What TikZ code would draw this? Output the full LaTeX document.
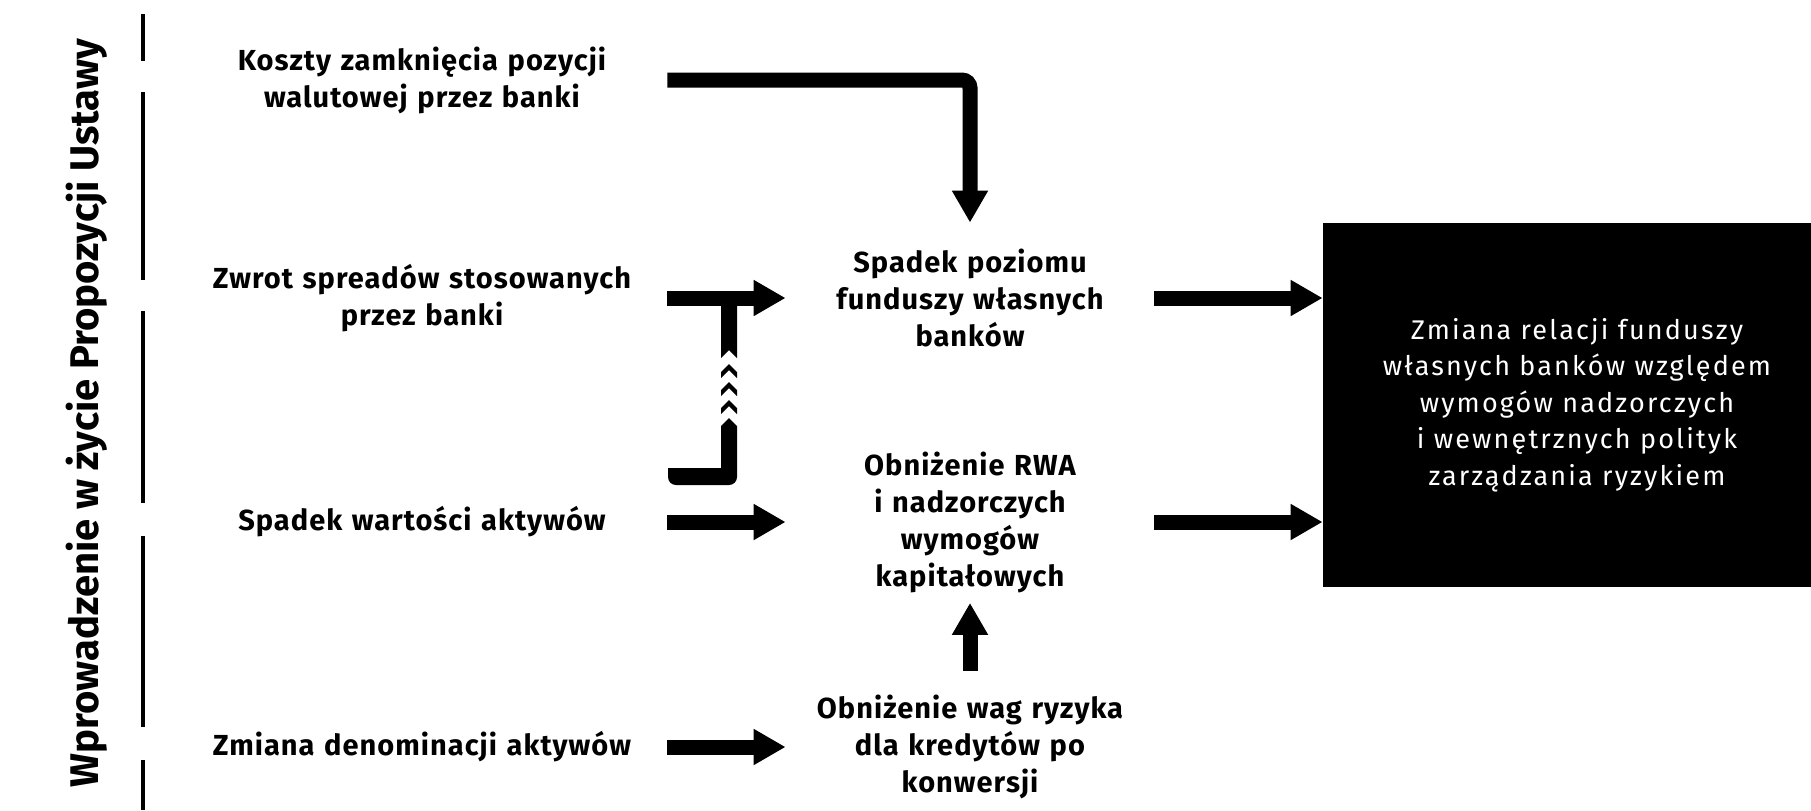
\documentclass[tikz,border=0pt]{standalone}
\usepackage{fontspec}
\setmainfont{Fira Sans}
\usetikzlibrary{arrows.meta}

\begin{document}
\begin{tikzpicture}[x = 0.5pt, y = -0.5pt,
	txt/.style = {font = \bfseries\fontsize{14.5}{18.5}\selectfont\addfontfeature{LetterSpace = 3.5}, align = center, inner sep = 0pt},
	causebox/.style = {txt, text width = 245pt},
	effectbox/.style = {txt, text width = 184pt},
	fatarrow/.style = {line width = 7.5pt, -{Triangle[length = 16pt, width = 17pt]}}]

	\path [use as bounding box] (0, 0) rectangle (1811, 810);

	% Side label
	
	\node [rotate = 90, font = \bfseries\fontsize{20}{22}\selectfont] (ustawa) at (87, 413) {Wprowadzenie w życie Propozycji Ustawy};
	
	\foreach \a/\b in {14/61, 92/280, 311/503, 536/727, 760/810}
		\draw [line width = 2.2pt] (143, \a) -- (143, \b);

	% Causes
	
	\node [causebox] (koszty) at (422, 80) {Koszty zamknięcia pozycji\\walutowej przez banki};
	\node [causebox] (zwrot) at (422, 298) {Zwrot spreadów stosowanych\\przez banki};
	\node [causebox] (aktywa) at (422, 522) {Spadek wartości aktywów};
	\node [causebox] (denominacja) at (422, 747) {Zmiana denominacji aktywów};
	
	% Effects
	
	\node [effectbox] (fundusze) at (970, 298) {Spadek poziomu\\funduszy własnych\\banków};
	\node [effectbox] (rwa) at (970, 522) {Obniżenie RWA\\i nadzorczych\\wymogów\\kapitałowych};
	\node [effectbox] (wagi) at (970, 747) {Obniżenie wag ryzyka\\dla kredytów po\\konwersji};
	
	\node [fill = black, text = white, align = center, minimum width = 254pt, minimum height = 182pt,
		font = \fontsize{13.5}{18.3}\selectfont\addfontfeature{LetterSpace = 8}] (relacja) at (1577, 405)
		{Zmiana relacji funduszy\\własnych banków względem\\wymogów nadzorczych\\i wewnętrznych polityk\\zarządzania ryzykiem};
	
	% Arrows
	
	\draw [fatarrow, rounded corners = 4pt, shorten >= 13pt] (koszty.east) -| (fundusze.north);
	\draw [fatarrow] (zwrot.east) -- (zwrot.east -| fundusze.west);
	\draw [fatarrow] (aktywa.east) -- (aktywa.east -| rwa.west);
	\draw [fatarrow] (denominacja.east) -- (denominacja.east -| wagi.west);
	\draw [fatarrow, shorten <= 12pt, shorten >= 5pt] (wagi.north) -- (rwa.south);
	\draw [fatarrow] (fundusze.east) -- (fundusze.east -| relacja.west);
	\draw [fatarrow] (rwa.east) -- (rwa.east -| relacja.west);
	
	% Chevron link
	
	\fill (721, 298) -- (737, 298) -- (737, 358) -- (729, 350) -- (721, 358) -- cycle;
	\foreach \y in {364, 382, 400}
		\fill (721, \y + 8) -- (729, \y) -- (737, \y + 8) -- (737, \y + 14) -- (729, \y + 6) -- (721, \y + 14) -- cycle;
	\fill (721, 426) -- (729, 418) -- (737, 426) [rounded corners = 4pt] -- (737, 485) -- (668, 485) [sharp corners] -- (668, 468) -- (721, 468) -- cycle;

\end{tikzpicture}
\end{document}
